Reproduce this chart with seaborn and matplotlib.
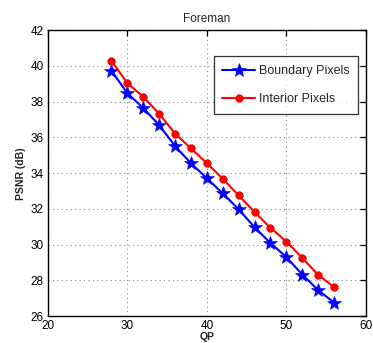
import matplotlib
matplotlib.use("Agg")
import matplotlib.pyplot as plt
import seaborn as sns
import pandas as pd

qp = [28, 30, 32, 34, 36, 38, 40, 42, 44, 46, 48, 50, 52, 54, 56]
boundary = [39.74, 38.48, 37.65, 36.69, 35.52, 34.56, 33.72, 32.87, 31.98, 30.98, 30.09, 29.31, 28.33, 27.46, 26.76]
interior = [40.30, 39.04, 38.28, 37.33, 36.22, 35.39, 34.56, 33.69, 32.76, 31.83, 30.94, 30.18, 29.26, 28.31, 27.63]
series_names = ["Boundary Pixels", "Interior Pixels"]
xticks = [20, 30, 40, 50, 60]
yticks = [26, 28, 30, 32, 34, 36, 38, 40, 42]

df_b = pd.DataFrame({"QP": qp, "PSNR": boundary})
df_i = pd.DataFrame({"QP": qp, "PSNR": interior})

sns.set_style("white")
plt.rcParams['font.family'] = ['Liberation Sans', 'DejaVu Sans']

fig = plt.figure(figsize=(3.73, 3.43), dpi=100)
ax = fig.add_axes([0.128, 0.078, 0.853, 0.834])

sns.lineplot(data=df_b, x="QP", y="PSNR", color=(0, 0, 1), marker="*",
             markersize=10, markeredgewidth=0.4, markeredgecolor=(0, 0, 1),
             linewidth=1.5, ax=ax, label=series_names[0])
sns.lineplot(data=df_i, x="QP", y="PSNR", color=(1, 0, 0), marker=(8, 2, 0),
             markersize=5.5, markeredgewidth=2.0, markeredgecolor=(1, 0, 0),
             linewidth=1.5, ax=ax, label=series_names[1])

ax.set_xlim(20, 60)
ax.set_ylim(26, 42)
ax.set_xticks(xticks)
ax.set_yticks(yticks)
ax.grid(True, linestyle=(0, (1, 3)), color='#888888', linewidth=0.8)
ax.tick_params(direction='in', top=True, right=True, labelsize=8.5, length=4,
               width=0.9, pad=3, colors='black')
ax.tick_params(axis='x', pad=3)
for s in ax.spines.values():
    s.set_color('black')
    s.set_linewidth(1.0)
ax.set_xlabel("QP", fontsize=7.5, fontweight='bold', labelpad=0)
ax.set_ylabel("PSNR (dB)", fontsize=7.5, fontweight='bold', labelpad=3)
ax.set_title("Foreman", fontsize=8.5, pad=6)

handles, labels = ax.get_legend_handles_labels()
leg = ax.legend(handles, labels, loc='upper right', bbox_to_anchor=(0.995, 0.93),
                fontsize=9, frameon=True, fancybox=False, edgecolor='black',
                handlelength=2.6, labelspacing=1.3, borderpad=0.7, handletextpad=0.3)
leg.get_frame().set_linewidth(0.9)

fig.savefig("out.png", dpi=100)
